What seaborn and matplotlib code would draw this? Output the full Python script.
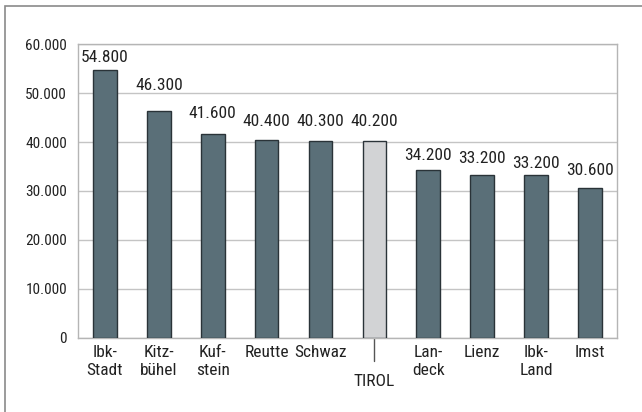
import matplotlib
matplotlib.use('Agg')
import matplotlib.pyplot as plt
from matplotlib import font_manager
import matplotlib.transforms as mtransforms
import seaborn as sns
import pandas as pd
from matplotlib.patches import Rectangle

# --- Data ---
districts = ['Ibk-\nStadt', 'Kitz-\nbühel', 'Kuf-\nstein', 'Reutte', 'Schwaz', 'TIROL',
             'Lan-\ndeck', 'Lienz', 'Ibk-\nLand', 'Imst']
values = [54800, 46300, 41600, 40400, 40300, 40200, 34200, 33200, 33200, 30600]
value_labels = ['54.800', '46.300', '41.600', '40.400', '40.300', '40.200',
                '34.200', '33.200', '33.200', '30.600']
y_ticks = [0, 10000, 20000, 30000, 40000, 50000, 60000]
y_tick_labels = ['0', '10.000', '20.000', '30.000', '40.000', '50.000', '60.000']

# label gap above each bar (points) - the original places them unevenly
label_pad = [3.6, 13, 9.4, 8, 8, 8.6, 5, 6.5, 3, 7.2]

df = pd.DataFrame({'district': districts, 'value': values})
df['group'] = ['Tirol' if d == 'TIROL' else 'Bezirk' for d in districts]

# --- Style ---
sns.set_style('white')
installed = {f.name for f in font_manager.fontManager.ttflist}
narrow = [n for n in ['Roboto Condensed', 'Liberation Sans Narrow', 'DejaVu Sans Condensed',
                      'Roboto'] if n in installed]
plt.rcParams['font.family'] = narrow[:1] + ['DejaVu Sans']

fig = plt.figure(figsize=(6.42, 4.12), dpi=100)
ax = fig.add_axes([0.1215, 0.180, 0.8395, 0.713])

palette = {'Bezirk': '#55717d', 'Tirol': '#d2d3d5'}
sns.barplot(data=df, x='district', y='value', hue='group', palette=palette,
            dodge=False, width=0.44, edgecolor='#2a3338', linewidth=1.0,
            legend=False, ax=ax, zorder=3)

for c in ax.containers:
    for p in c:
        i = round(p.get_x() + p.get_width() / 2)
        ax.annotate(value_labels[i], (p.get_x() + p.get_width() / 2, p.get_height()),
                    xytext=(0, label_pad[i]), textcoords='offset points',
                    ha='center', va='bottom', fontsize=12.5, color='#222222')

ax.set_xlim(-0.5, 9.5)
ax.set_ylim(0, 60000)
ax.set_yticks(y_ticks)
ax.set_yticklabels(y_tick_labels, fontsize=11, color='#222222')
ax.set_xticks(range(len(districts)))
ax.set_xticklabels(districts, fontsize=12.5, color='#222222', linespacing=1.3)
ax.set_xlabel('')
ax.set_ylabel('')
ax.yaxis.grid(True, color='#c4c4c4', linewidth=1.0, zorder=0)
ax.tick_params(axis='x', length=0, pad=5)
ax.tick_params(axis='y', length=0, pad=8)
for s in ax.spines.values():
    s.set_color('#b5b5b5')
    s.set_linewidth(1.0)

# TIROL label sits lower with a connector line
tirol = districts.index('TIROL')
ax.xaxis.get_major_ticks()[tirol].set_pad(26)
trans = mtransforms.blended_transform_factory(ax.transData, ax.transAxes)
ax.plot([tirol, tirol], [0, -0.08], transform=trans, clip_on=False,
        color='#555555', linewidth=1.0)

# outer frame
fig.patches.append(Rectangle((5 / 642, -0.1), 1.2, 1 - 6 / 412 + 0.1,
                             transform=fig.transFigure, fill=False,
                             edgecolor='#8a8a8a', linewidth=1.2))

fig.savefig('out.png', dpi=100)
